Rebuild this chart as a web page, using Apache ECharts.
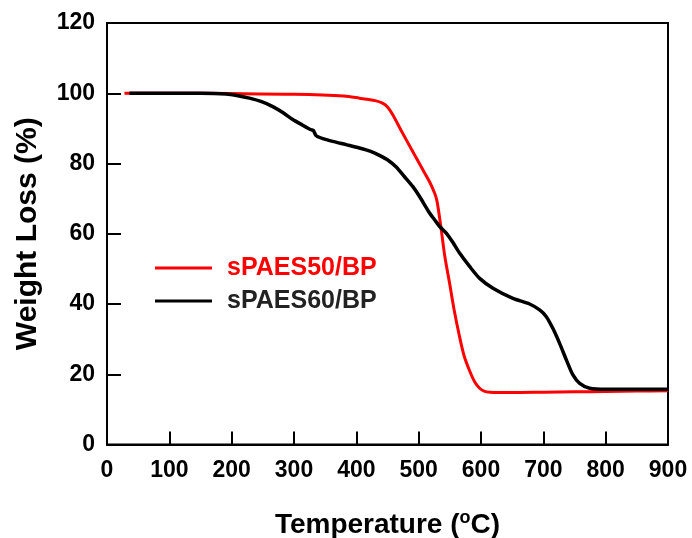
<!DOCTYPE html>
<html>
<head>
<meta charset="utf-8">
<script src="https://cdn.jsdelivr.net/npm/echarts@6/dist/echarts.min.js"></script>
<style>html,body{margin:0;padding:0;background:#fff}#c{width:692px;height:538px}</style>
</head>
<body>
<div id="c"></div>
<script>
const seriesNames = ['sPAES50/BP', 'sPAES60/BP'];
const temp50 = [28, 100, 200, 300, 380, 405, 430, 442, 450, 458, 471.9, 488, 506.7, 518, 525.5, 529, 532, 536.3, 542, 549.6, 557, 565.6, 573, 581.7, 590, 597.8, 605, 614, 650, 700, 750, 800, 850, 900];
const weight50 = [100, 100, 99.9, 99.7, 99.2, 98.6, 97.9, 97.2, 96.1, 94.0, 89.4, 84.2, 78.2, 74.6, 71.6, 69.6, 66.5, 61.1, 53.5, 45.9, 38.2, 30.7, 25.2, 21.0, 17.8, 16.0, 15.2, 14.9, 14.8, 14.9, 15.0, 15.1, 15.2, 15.3];
const temp60 = [36, 100, 150, 191, 210, 228.6, 248, 266, 282, 298, 313, 327.6, 331, 335.6, 348, 362, 385, 405, 422, 437, 452, 464, 477, 490.7, 501.4, 517.5, 525.5, 534, 544.3, 555, 565.6, 581.7, 597.8, 619.2, 651.2, 678, 694, 704.8, 715.4, 726.1, 736.9, 747.5, 758.3, 774.3, 801, 850, 900];
const weight60 = [100, 100, 100, 99.8, 99.3, 98.6, 97.6, 96.2, 94.5, 92.5, 91.0, 89.6, 89.4, 87.9, 87.0, 86.3, 85.3, 84.4, 83.5, 82.3, 80.8, 79.0, 76.3, 73.4, 70.6, 65.9, 64.0, 62.0, 60.2, 57.5, 54.5, 50.7, 47.3, 44.5, 41.6, 40.0, 38.3, 36.4, 33.0, 28.8, 24.1, 19.8, 17.4, 16.0, 15.7, 15.7, 15.7];
const xTicks = [0, 100, 200, 300, 400, 500, 600, 700, 800, 900];
const yTicks = [0, 20, 40, 60, 80, 100, 120];

const font = '"Liberation Sans", Arial, sans-serif';
const chart = echarts.init(document.getElementById('c'), null, {renderer: 'canvas'});
const pair = (xs, ys) => xs.map((x, i) => [x, ys[i]]);
chart.setOption({
  animation: false,
  backgroundColor: '#fff',
  grid: {left: 107, right: 24, top: 23, bottom: 93.5, containLabel: false, outerBoundsMode: 'none', show: true, borderColor: '#000', borderWidth: 2, backgroundColor: 'transparent'},
  legend: {
    left: 150, top: 250, orient: 'vertical', itemWidth: 57, itemHeight: 3, itemGap: 7,
    icon: 'rect',
    textStyle: {fontFamily: font, fontWeight: 'bold', fontSize: 25, lineHeight: 26, padding: [0, 0, 0, 10]},
    data: [
      {name: seriesNames[0], textStyle: {color: '#ff0000'}},
      {name: seriesNames[1], textStyle: {color: '#222222'}}
    ]
  },
  xAxis: {
    type: 'value', min: xTicks[0], max: xTicks[xTicks.length - 1], interval: 100,
    axisLine: {lineStyle: {color: '#000', width: 2}},
    axisTick: {inside: true, length: 13, lineStyle: {color: '#000', width: 2}},
    axisLabel: {color: '#000', fontFamily: font, fontWeight: 'bold', fontSize: 23, margin: 15},
    splitLine: {show: false},
    name: '{a|Temperature (}{s|o}{a|C)}',
    nameLocation: 'middle', nameGap: 65,
    nameTextStyle: {
      rich: {
        a: {fontFamily: font, fontWeight: 'bold', fontSize: 28, color: '#000', lineHeight: 32},
        s: {fontFamily: font, fontWeight: 'bold', fontSize: 18, color: '#000', verticalAlign: 'top', padding: [0, 0, 14, 0], lineHeight: 32}
      }
    }
  },
  yAxis: {
    type: 'value', min: yTicks[0], max: yTicks[yTicks.length - 1], interval: 20,
    axisLine: {lineStyle: {color: '#000', width: 2}},
    axisTick: {inside: true, length: 14, lineStyle: {color: '#000', width: 2}},
    axisLabel: {color: '#000', fontFamily: font, fontWeight: 'bold', fontSize: 23, margin: 12},
    splitLine: {show: false},
    name: 'Weight Loss (%)', nameLocation: 'middle', nameGap: 64,
    nameTextStyle: {fontFamily: font, fontWeight: 'bold', fontSize: 30, color: '#000'}
  },
  series: [
    {name: seriesNames[0], type: 'line', data: pair(temp50, weight50), smooth: 0.3, symbol: 'none', lineStyle: {color: '#ff0000', width: 3}, itemStyle: {color: '#ff0000'}},
    {name: seriesNames[1], type: 'line', data: pair(temp60, weight60), smooth: 0.25, symbol: 'none', lineStyle: {color: '#000000', width: 3.5}, itemStyle: {color: '#000000'}}
  ]
});
</script>
</body>
</html>
